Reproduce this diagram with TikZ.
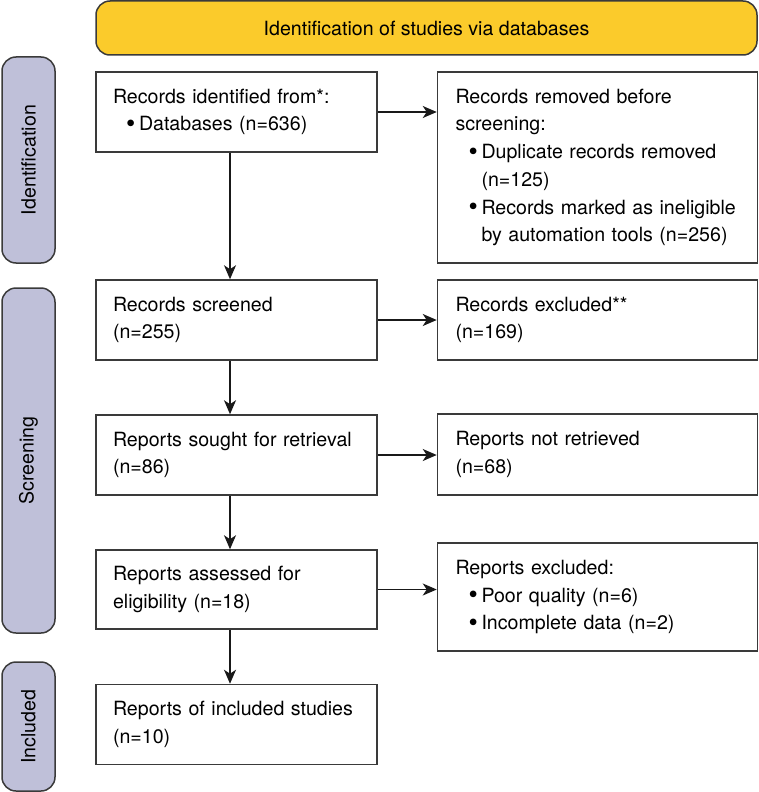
\documentclass[tikz,border=0pt]{standalone}
\usepackage{fontspec}
\setmainfont{TeX Gyre Heros}
\usetikzlibrary{arrows.meta}
\definecolor{banner}{HTML}{FBCB2B}
\definecolor{phase}{HTML}{BFC0D9}
\definecolor{edge}{HTML}{3A3A3A}
\newcommand{\bul}{\hspace*{13pt}\makebox[13pt][l]{\raisebox{-1.8pt}{\scalebox{1.35}{\textbullet}}}}
\newcommand{\hang}{\hspace*{26pt}}
\begin{document}
\begin{tikzpicture}[x=1pt,y=-1pt,
  txt/.style={font=\fontsize{19.6}{27.7}\selectfont},
  lbox/.style={txt,draw=edge,line width=1.5pt,fill=white,minimum width=281pt,text width=247pt,inner xsep=17pt,inner ysep=0pt,align=left,anchor=center},
  rbox/.style={txt,draw=edge,line width=1.5pt,fill=white,minimum width=320pt,text width=284pt,inner xsep=18pt,inner ysep=0pt,align=left,anchor=center},
  phasebox/.style={txt,draw=edge,line width=1.5pt,fill=phase,rounded corners=14pt,minimum width=53pt,inner sep=0pt,anchor=center},
  arr/.style={draw=black!90,line width=1.5pt,-{Stealth[length=14pt,width=12pt,inset=4pt]}}
]
\useasboundingbox (0,0) rectangle (759,792);
% banner
\node[txt,draw=edge,line width=1.5pt,fill=banner,rounded corners=14pt,minimum width=661pt,minimum height=54pt,inner sep=0pt] (ban) at (426.5,28) {Identification of studies via databases};
% phases
\node[phasebox,minimum height=206pt] (p1) at (28.5,160) {};
\node[txt,rotate=90] at (p1.center) {Identification};
\node[phasebox,minimum height=345pt] (p2) at (28.5,460.5) {};
\node[txt,rotate=90] at (p2.center) {Screening};
\node[phasebox,minimum height=129pt] (p3) at (28.5,726.5) {};
\node[txt,rotate=90] at (p3.center) {Included};
% left boxes
\node[lbox,minimum height=80pt] (b1) at (236.5,112) {Records identified from*:\\\bul Databases (n=636)};
\node[lbox,minimum height=80pt] (b2) at (236.5,320) {Records screened\\(n=255)};
\node[lbox,minimum height=80pt] (b3) at (236.5,455) {Reports sought for retrieval\\(n=86)};
\node[lbox,minimum height=79pt] (b4) at (236.5,589.5) {Reports assessed for\\eligibility (n=18)};
\node[lbox,minimum height=80pt] (b5) at (236.5,724.5) {Reports of included studies\\(n=10)};
% right boxes
\node[rbox,minimum height=191pt] (r1) at (597.5,167.5) {Records removed before\\screening:\\\bul Duplicate records removed\\\hang(n=125)\\\bul Records marked as ineligible\\\hang by automation tools (n=256)};
\node[rbox,minimum height=80pt] (r2) at (597.5,320) {Records excluded**\\(n=169)};
\node[rbox,minimum height=81pt] (r3) at (597.5,454.5) {Reports not retrieved\\(n=68)};
\node[rbox,minimum height=108pt] (r4) at (597.5,597) {Reports excluded:\\\bul Poor quality (n=6)\\\bul Incomplete data (n=2)};
% arrows
\coordinate (ax) at (230,0);
\draw[arr] (b1.south -| ax) -- (b2.north -| ax);
\draw[arr] (b2.south -| ax) -- (b3.north -| ax);
\draw[arr] (b3.south -| ax) -- (b4.north -| ax);
\draw[arr] (b4.south -| ax) -- (b5.north -| ax);
\draw[arr] (b1.east) -- (b1.east -| r1.west);
\draw[arr] (b2.east) -- (r2.west);
\draw[arr] (b3.east) -- (b3.east -| r3.west);
\draw[arr] (b4.east) -- (b4.east -| r4.west);
\end{tikzpicture}
\end{document}
